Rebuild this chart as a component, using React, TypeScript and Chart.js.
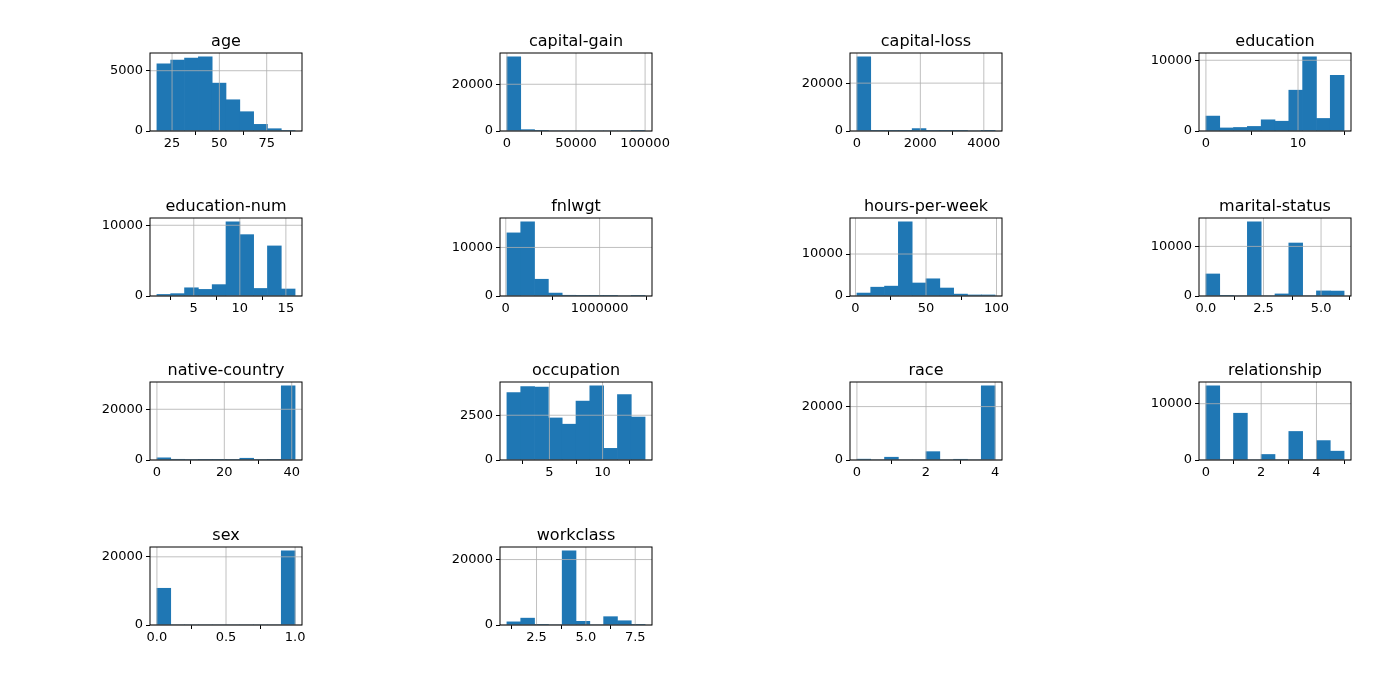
import React, { useEffect, useRef } from 'react';
import Chart from 'chart.js/auto';

// Histogram panels: [title, min, max, counts (10 equal bins), x ticks, y ticks]
const titles = [
  'age', 'capital-gain', 'capital-loss', 'education',
  'education-num', 'fnlwgt', 'hours-per-week', 'marital-status',
  'native-country', 'occupation', 'race', 'relationship',
  'sex', 'workclass',
];
const ranges: [number, number][] = [
  [17, 90], [0, 99999], [0, 4356], [0, 15],
  [1, 16], [12285, 1484705], [1, 99], [0, 6],
  [0, 41], [1, 14], [0, 4], [0, 5],
  [0, 1], [1, 8],
];
const counts: number[][] = [
  [5570, 5890, 6050, 6160, 3970, 2590, 1600, 550, 190, 50],
  [31790, 580, 20, 0, 0, 0, 0, 0, 0, 159],
  [31042, 15, 5, 290, 1010, 160, 5, 20, 0, 2],
  [2108, 433, 501, 646, 1581, 1382, 5768, 10501, 1774, 7867],
  [219, 333, 1160, 933, 1608, 10501, 8673, 1067, 7078, 989],
  [13000, 15300, 3450, 600, 150, 40, 15, 5, 0, 2],
  [700, 2100, 2350, 17700, 3100, 4100, 1900, 450, 250, 250],
  [4443, 23, 0, 14976, 0, 418, 10683, 0, 1025, 993],
  [857, 280, 190, 140, 120, 180, 691, 190, 140, 29290],
  [3770, 4100, 4070, 2350, 2000, 3290, 4150, 650, 3650, 2400],
  [311, 0, 1039, 0, 0, 3124, 0, 271, 0, 27816],
  [13193, 0, 8305, 0, 981, 0, 5068, 0, 3446, 1568],
  [10771, 0, 0, 0, 0, 0, 0, 0, 0, 21790],
  [960, 2093, 7, 0, 22696, 1116, 0, 2541, 1298, 14],
];
const xTicks: number[][] = [
  [25, 50, 75], [0, 50000, 100000], [0, 2000, 4000], [0, 10],
  [5, 10, 15], [0, 1000000], [0, 50, 100], [0, 2.5, 5],
  [0, 20, 40], [5, 10], [0, 2, 4], [0, 2, 4],
  [0, 0.5, 1], [2.5, 5, 7.5],
];
const yTicks: number[][] = [
  [0, 5000], [0, 20000], [0, 20000], [0, 10000],
  [0, 10000], [0, 10000], [0, 10000], [0, 10000],
  [0, 20000], [0, 2500], [0, 20000], [0, 10000],
  [0, 20000], [0, 20000],
];

const colLeft = [150, 500, 850, 1199];
const rowTop = [53, 218, 382, 547];
const PW = 152, PH = 78, ML = 80, MT = 30, MR = 30, MB = 25;

const fmt = (v: number) => (Number.isInteger(v) ? String(v) : v.toFixed(1));
const tickFmt = (ticks: number[]) => {
  const dec = ticks.some(t => !Number.isInteger(t));
  return (v: number) => (dec ? v.toFixed(1) : fmt(v));
};

const framePlugin = {
  id: 'frame',
  afterDatasetsDraw(chart: any) {
    const { ctx, chartArea: a, scales } = chart;
    ctx.save();
    ctx.strokeStyle = '#b0b0b0';
    ctx.lineWidth = 0.8;
    for (const id of ['x', 'y']) {
      const s = scales[id];
      s.ticks.forEach((t: any) => {
        const p = s.getPixelForValue(t.value);
        ctx.beginPath();
        if (id === 'x') { ctx.moveTo(p, a.top); ctx.lineTo(p, a.bottom); }
        else { ctx.moveTo(a.left, p); ctx.lineTo(a.right, p); }
        ctx.stroke();
      });
    }
    ctx.strokeStyle = '#000';
    ctx.lineWidth = 1;
    ctx.strokeRect(a.left, a.top, a.right - a.left, a.bottom - a.top);
    ctx.fillStyle = '#000';
    ctx.font = '16px "DejaVu Sans"';
    ctx.textAlign = 'center';
    ctx.textBaseline = 'alphabetic';
    ctx.fillText(chart.options.plugins.panelTitle, (a.left + a.right) / 2, a.top - 7);
    ctx.restore();
  },
};

const Hist: React.FC<{ i: number }> = ({ i }) => {
  const ref = useRef<HTMLCanvasElement>(null);
  useEffect(() => {
    if (!ref.current) return;
    const [lo, hi] = ranges[i];
    const w = (hi - lo) / 10;
    const m = (hi - lo) * 0.05;
    const ymax = Math.max(...counts[i]) * 1.05;
    const data = counts[i].map((c, k) => ({ x: lo + w * (k + 0.5), y: c }));
    const xf = tickFmt(xTicks[i]);
    const chart = new Chart(ref.current, {
      type: 'bar',
      data: {
        datasets: [{
          data,
          backgroundColor: '#1f77b4',
          barPercentage: 1,
          categoryPercentage: 1,
          borderWidth: 0,
        }],
      },
      plugins: [framePlugin],
      options: {
        animation: false,
        responsive: false,
        events: [],
        layout: { padding: { top: MT, right: MR, left: 0, bottom: 0 } },
        plugins: { legend: { display: false }, tooltip: { enabled: false }, panelTitle: titles[i] } as any,
        scales: {
          x: {
            type: 'linear',
            min: lo - m,
            max: hi + m,
            offset: false,
            border: { display: false },
            grid: { color: 'transparent', tickColor: '#000', tickLength: 4, drawOnChartArea: false },
            afterBuildTicks: (s: any) => { s.ticks = xTicks[i].map(v => ({ value: v })); },
            afterFit: (s: any) => { s.height = MB; s.paddingLeft = 0; s.paddingRight = 0; },
            ticks: { color: '#000', font: { family: 'DejaVu Sans', size: 13 }, padding: 1, maxRotation: 0, autoSkip: false, callback: (v: any) => xf(Number(v)) },
          },
          y: {
            type: 'linear',
            min: 0,
            max: ymax,
            border: { display: false },
            grid: { color: 'transparent', tickColor: '#000', tickLength: 4, drawOnChartArea: false },
            afterBuildTicks: (s: any) => { s.ticks = yTicks[i].map(v => ({ value: v })); },
            afterFit: (s: any) => { s.width = ML; s.paddingTop = 0; s.paddingBottom = 0; },
            ticks: { color: '#000', font: { family: 'DejaVu Sans', size: 13 }, padding: 3, autoSkip: false, callback: (v: any) => fmt(Number(v)) },
          },
        },
      } as any,
    });
    return () => chart.destroy();
  }, [i]);
  const left = colLeft[i % 4] - ML;
  const top = rowTop[Math.floor(i / 4)] - MT;
  return (
    <canvas
      ref={ref}
      width={ML + PW + MR}
      height={MT + PH + MB}
      style={{ position: 'absolute', left, top, width: ML + PW + MR, height: MT + PH + MB }}
    />
  );
};

export default function App() {
  return (
    <div style={{ position: 'absolute', left: 0, top: 0, width: 1399, height: 680, background: '#fff' }}>
      {titles.map((_, i) => <Hist key={i} i={i} />)}
    </div>
  );
}
